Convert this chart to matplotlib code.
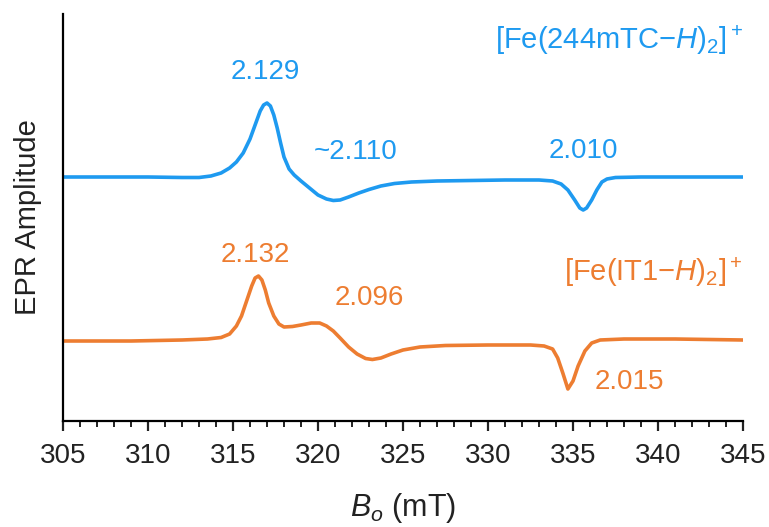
import matplotlib
matplotlib.use("Agg")
import matplotlib.pyplot as plt
from matplotlib.ticker import MultipleLocator

plt.rcParams['font.family'] = ['Liberation Sans', 'DejaVu Sans']
plt.rcParams['mathtext.fontset'] = 'custom'
plt.rcParams['mathtext.rm'] = 'Liberation Sans'
plt.rcParams['mathtext.it'] = 'Liberation Sans:italic'

# Field (mT) and amplitude (arbitrary units)
blue_B = [305, 310, 312, 313, 313.7, 314.3, 314.8, 315.2, 315.6, 316.0, 316.3, 316.6,
          316.8, 317.0, 317.2, 317.4, 317.6, 317.8, 318.0, 318.3, 318.6, 319.0, 319.5,
          320.0, 320.5, 320.9, 321.3, 321.8, 322.4, 323.0, 323.7, 324.5, 325.5, 327,
          329, 331, 333, 333.8, 334.3, 334.7, 335.1, 335.4, 335.6, 335.8, 336.1, 336.4,
          336.7, 337.0, 337.5, 339, 342, 345]
blue_amp = [244, 244, 243.5, 243.5, 245, 248, 253, 259, 268, 282, 296, 310,
            316, 318, 315, 306, 293, 278, 264, 252, 246, 240, 233,
            226, 222, 220.5, 221, 224, 228, 231.5, 235, 237.5, 239, 240,
            240.5, 241, 241, 240, 237, 231, 221, 213, 211, 213, 221, 231,
            239, 242, 243.5, 244, 244, 244]

orange_B = [305, 309, 312, 313.5, 314.3, 314.8, 315.2, 315.5, 315.8, 316.1, 316.3, 316.5,
            316.7, 316.9, 317.1, 317.4, 317.7, 318.0, 318.5, 319.0, 319.6, 320.1, 320.5,
            320.9, 321.3, 321.8, 322.3, 322.8, 323.2, 323.7, 324.3, 325.0, 326, 327.5,
            330, 332.5, 333.3, 333.8, 334.1, 334.4, 334.7, 335.0, 335.3, 335.7, 336.1,
            336.6, 338, 341, 345]
orange_amp = [80, 80, 81, 82, 83.5, 87, 95, 105, 120, 135, 143, 145,
              141, 131, 118, 105, 97, 94, 94.5, 96, 98, 98, 95,
              90, 83, 74, 67, 62.5, 61.5, 63, 67, 71, 74, 75.5,
              76, 76, 75, 72, 63, 48, 32, 40, 55, 70, 78,
              81, 82, 82, 81]

blue_labels = [("2.129", 316.9, 349), ("~2.110", 322.2, 269), ("2.010", 335.6, 270)]
orange_labels = [("2.132", 316.3, 166), ("2.096", 323.0, 123), ("2.015", 338.3, 39)]
blue_name = r"[Fe(244mTC$-\mathit{H}$)$_2$]$^+$"
orange_name = r"[Fe(IT1$-\mathit{H}$)$_2$]$^+$"

blue_c = '#1E9AF0'
orange_c = '#ED7D31'

fig = plt.figure(figsize=(7.69, 5.27), dpi=100)
ax = fig.add_axes([63/769, (527-421)/527, 680/769, 407/527])
ax.plot(blue_B, blue_amp, color=blue_c, lw=2.6, solid_capstyle='round', solid_joinstyle='round')
ax.plot(orange_B, orange_amp, color=orange_c, lw=2.6, solid_capstyle='round', solid_joinstyle='round')

ax.set_xlim(305, 345)
ax.set_ylim(0, 407)
ax.spines['top'].set_visible(False)
ax.spines['right'].set_visible(False)
ax.spines['left'].set_linewidth(1.6)
ax.spines['bottom'].set_linewidth(1.6)
ax.set_yticks([])
ax.xaxis.set_major_locator(MultipleLocator(5))
ax.xaxis.set_minor_locator(MultipleLocator(1))
ax.tick_params(axis='x', which='major', direction='out', length=7, width=1.6,
               labelsize=20, pad=9, colors='#222222')
ax.tick_params(axis='x', which='minor', direction='out', length=4, width=1.4, colors='#222222')

for t, x, y in blue_labels:
    ax.text(x, y, t, color=blue_c, fontsize=20, ha='center', va='center')
for t, x, y in orange_labels:
    ax.text(x, y, t, color=orange_c, fontsize=20, ha='center', va='center')
ax.text(345, 381, blue_name, color=blue_c, fontsize=21, ha='right', va='center')
ax.text(345, 149, orange_name, color=orange_c, fontsize=21, ha='right', va='center')

ax.set_ylabel("EPR Amplitude", fontsize=21, color='#222222', labelpad=15)
ax.set_xlabel(r"$\mathit{B}_{\mathit{o}}$ (mT)", fontsize=22, color='#222222', labelpad=16)

fig.savefig("out.png", dpi=100)
